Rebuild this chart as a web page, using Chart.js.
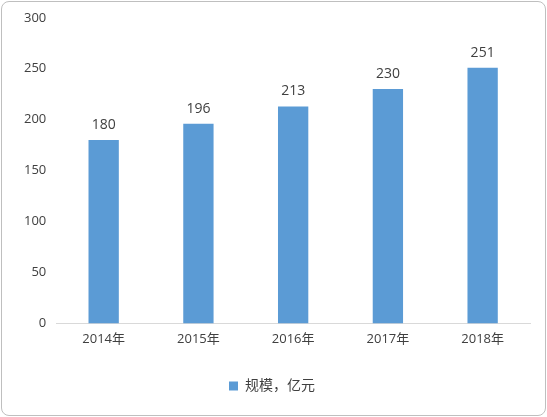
<!DOCTYPE html>
<html><head><meta charset="utf-8">
<script src="https://cdn.jsdelivr.net/npm/chart.js@4"></script>
<style>
html,body{margin:0;padding:0;background:#fff;}
#wrap{position:absolute;left:1px;top:1px;width:543px;height:413px;border:1px solid #bfbfbf;border-radius:8px;}
canvas{position:absolute;left:0;top:0;}
</style></head><body>
<div id="wrap"></div>
<canvas id="c" width="547" height="417"></canvas>
<script>
const categories = ["2014年", "2015年", "2016年", "2017年", "2018年"];
const values = [180, 196, 213, 230, 251];
const seriesName = "规模，亿元";

const FONT = "'Open Sans', 'Noto Sans CJK SC', sans-serif";
const TEXT = "#404040";

// draw value labels above each bar
const barLabels = {
	id: "barLabels",
	afterDatasetsDraw(chart) {
		const ctx = chart.ctx;
		const meta = chart.getDatasetMeta(0);
		ctx.save();
		ctx.font = "14px " + FONT;
		ctx.fillStyle = TEXT;
		ctx.textAlign = "center";
		ctx.textBaseline = "bottom";
		meta.data.forEach((bar, i) => {
			ctx.fillText(values[i], bar.x, bar.y - 8);
		});
		ctx.restore();
	},
};

new Chart(document.getElementById("c"), {
	type: "bar",
	data: {
		labels: categories,
		datasets: [{
			label: seriesName,
			data: values,
			backgroundColor: "#5b9bd5",
			barPercentage: 0.32,
			categoryPercentage: 1,
		}],
	},
	options: {
		responsive: false,
		animation: false,
		layout: { padding: { left: 14, right: 17, top: 12, bottom: 14 } },
		scales: {
			x: {
				grid: { display: false, drawTicks: false },
				border: { color: "#d9d9d9" },
				ticks: { color: TEXT, font: { size: 13, family: FONT }, padding: 8 },
			},
			y: {
				min: 0, max: 300,
				ticks: { stepSize: 50, color: TEXT, font: { size: 13, family: FONT }, padding: 10 },
				grid: { display: false, drawTicks: false },
				border: { display: false },
			},
		},
		plugins: {
			legend: {
				position: "bottom",
				labels: { color: TEXT, font: { size: 14, family: FONT }, boxWidth: 9, boxHeight: 9, padding: 24 },
			},
			tooltip: { enabled: false },
		},
	},
	plugins: [barLabels],
});
</script>
</body></html>
